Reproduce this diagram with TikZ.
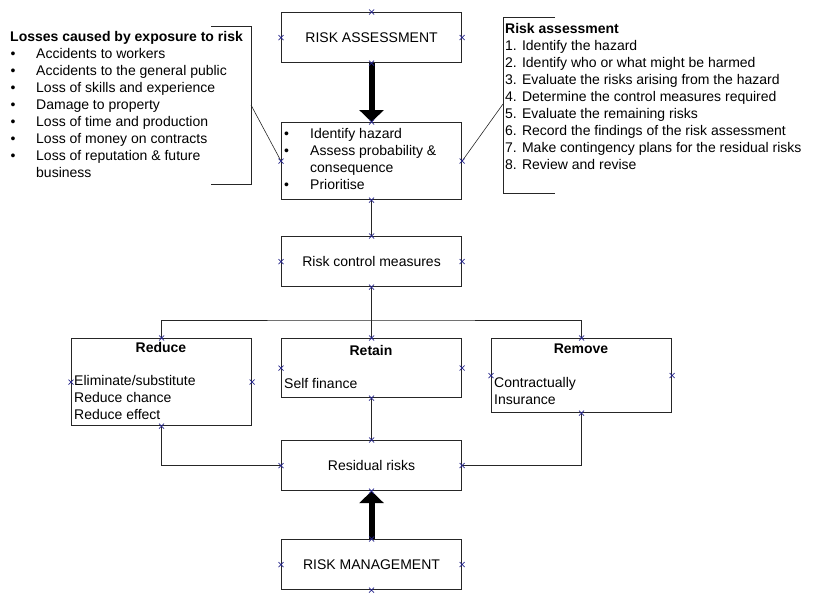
\documentclass[tikz,border=0pt]{standalone}
\usepackage{fontspec}
\setmainfont{Liberation Sans}
\usepackage{tikz}
\usetikzlibrary{arrows.meta, calc}
\definecolor{markBlue}{rgb}{0.15, 0.15, 0.55}
\tikzset{
  box/.style={draw=black!85, line width=1.1pt, minimum width=180pt, inner sep=0pt, anchor=north west},
  txt/.style={anchor=base west, inner sep=0pt},
  ttl/.style={anchor=base, inner sep=0pt, font=\fontsize{14}{17}\selectfont\bfseries},
  link/.style={draw=black!85, line width=1pt},
  bigarrow/.style={line width=6pt, -{Triangle[length=12pt, width=24pt]}},
  xmark/.style={draw=markBlue, line width=0.7pt}
}

\begin{document}
\begin{tikzpicture}[x=1pt, y=-1pt, font=\fontsize{14}{17}\selectfont]
  \useasboundingbox (0,0) rectangle (814,606);

  \node[box, minimum height=50pt] (ra) at (281,12) {RISK ASSESSMENT};
  \node[box, minimum height=77pt] (idb) at (281,122) {};
  \node[box, minimum height=50pt] (rcm) at (281,236) {Risk control measures};
  \node[box, minimum height=87pt] (reduce) at (71,338) {};
  \node[box, minimum height=59pt] (retain) at (281,338) {};
  \node[box, minimum height=74pt] (remove) at (491,338) {};
  \node[box, minimum height=50pt] (resid) at (281,440) {Residual risks};
  \node[box, minimum height=50pt] (rm) at (281,539) {RISK MANAGEMENT};

  % losses list
  \node[ttl, anchor=base west] (losshead) at (10,41) {Losses caused by exposure to risk};
  \foreach \txt [count=\i from 0] in {Accidents to workers, Accidents to the general public,
      Loss of skills and experience, Damage to property, Loss of time and production,
      Loss of money on contracts, Loss of reputation \& future} {
    \node[txt] (lossb\i) at (10.5,58+17*\i) {\textbullet};
    \node[txt] (loss\i) at (36,58+17*\i) {\txt};
  }
  \node[txt] (loss7) at (36,177) {business};

  % assessment steps
  \node[ttl, anchor=base west] (rahead) at (505,33) {Risk assessment};
  \foreach \txt [count=\i] in {1. Identify the hazard, 2. Identify who or what might be harmed,
      3. Evaluate the risks arising from the hazard, 4. Determine the control measures required,
      5. Evaluate the remaining risks, 6. Record the findings of the risk assessment,
      7. Make contingency plans for the residual risks, 8. Review and revise}
    \node[txt] (rastep\i) at (505,33+17*\i) {\txt};

  % inside boxes
  \foreach \txt/\yy [count=\i] in {Identify hazard/138, Assess probability \&/155, Prioritise/189} {
    \node[txt] (idbb\i) at (284,\yy) {\textbullet};
    \node[txt] (idbt\i) at (310,\yy) {\txt};
  }
  \node[txt] (idbt4) at (310,172) {consequence};

  \node[ttl] (reducehd) at (161,352) {Reduce};
  \node[txt] (reduce1) at (74,385) {Eliminate/substitute};
  \node[txt] (reduce2) at (74,402) {Reduce chance};
  \node[txt] (reduce3) at (74,419) {Reduce effect};

  \node[ttl] (retainhd) at (371,355) {Retain};
  \node[txt] (retain1) at (284,388) {Self finance};

  \node[ttl] (removehd) at (581,353) {Remove};
  \node[txt] (remove1) at (494,387) {Contractually};
  \node[txt] (remove2) at (494,404) {Insurance};

  % connectors
  \coordinate (split) at (371,320);
  \draw[link] (idb.south) -- (rcm.north);
  \draw[link] (rcm.south) -- (retain.north);
  \draw[link] (reduce.north) |- (split) -| (remove.north);
  \draw[link] (retain.south) -- (resid.north);
  \draw[link] (reduce.south) |- (resid.west);
  \draw[link] (remove.south) |- (resid.east);

  % brackets
  \coordinate (lb) at (251,105);
  \coordinate (rb) at (503,104);
  \draw[link] (211,26) -- (251,26) -- (251,184) -- (211,184);
  \draw[link] (555,17) -- (503,17) -- (503,193) -- (555,193);
  \draw[black!85, line width=0.6pt] (lb) -- (idb.west);
  \draw[black!85, line width=0.6pt] (rb) -- (idb.east);

  \draw[bigarrow] (ra.south) -- (idb.north);
  \draw[bigarrow] (rm.north) -- (resid.south);

  \foreach \n in {ra, idb, rcm, reduce, retain, remove, resid, rm}
    \foreach \a in {north, south, east, west}
      \draw[xmark] (\n.\a) ++(-2.5,-2.5) -- ++(5,5) ++(-5,0) -- ++(5,-5);

\end{tikzpicture}
\end{document}
